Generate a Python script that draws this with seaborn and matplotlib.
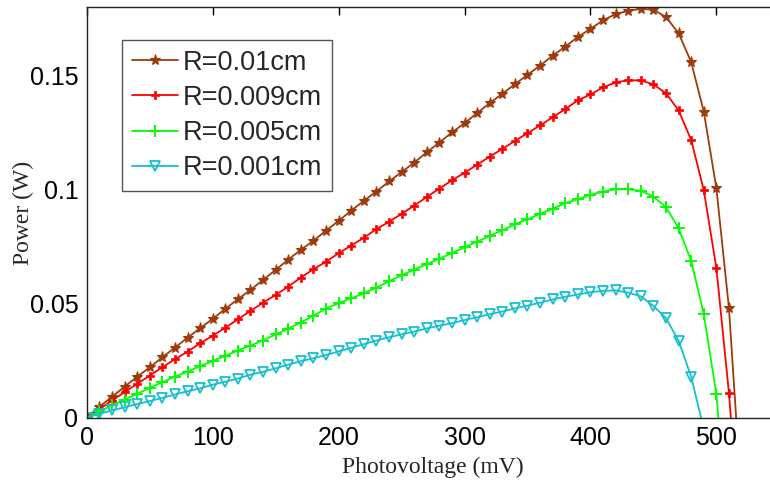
import numpy as np
import pandas as pd
import matplotlib
matplotlib.use("Agg")
import matplotlib.pyplot as plt
import seaborn as sns

# ---- data ----
labels = ["R=0.01cm", "R=0.009cm", "R=0.005cm", "R=0.001cm"]

v_brown = [0, 10, 20, 30, 40, 50, 60, 70, 80, 90, 100, 110, 120, 130, 140, 150, 160, 170, 180, 190,
           200, 210, 220, 230, 240, 250, 260, 270, 280, 290, 300, 310, 320, 330, 340, 350, 360, 370,
           380, 390, 400, 410, 420, 430, 440, 450, 460, 470, 480, 490, 500, 510, 520]
p_brown = [0, 0.0047, 0.0091, 0.0135, 0.0179, 0.0220, 0.0264, 0.0307, 0.0350, 0.0392, 0.0433, 0.0477,
           0.0519, 0.0560, 0.0604, 0.0648, 0.0693, 0.0736, 0.0776, 0.0820, 0.0863, 0.0908, 0.0951,
           0.0992, 0.1036, 0.1077, 0.1119, 0.1164, 0.1207, 0.1251, 0.1292, 0.1336, 0.1380, 0.1421,
           0.1463, 0.1504, 0.1545, 0.1588, 0.1628, 0.1670, 0.1706, 0.1743, 0.1771, 0.1785, 0.1794,
           0.1790, 0.1758, 0.1687, 0.1560, 0.1343, 0.1007, 0.0480, -0.036]

v_red = [0, 10, 20, 30, 40, 50, 60, 70, 80, 90, 100, 110, 120, 130, 140, 150, 160, 170, 180, 190,
         200, 210, 220, 230, 240, 250, 260, 270, 280, 290, 300, 310, 320, 330, 340, 350, 360, 370,
         380, 390, 400, 410, 420, 430, 440, 450, 460, 470, 480, 490, 500, 510, 520]
p_red = [0, 0.0037, 0.0074, 0.0111, 0.0148, 0.0184, 0.0220, 0.0256, 0.0289, 0.0326, 0.0359, 0.0394,
         0.0431, 0.0468, 0.0504, 0.0538, 0.0575, 0.0614, 0.0651, 0.0684, 0.0721, 0.0755, 0.0789,
         0.0827, 0.0859, 0.0894, 0.0930, 0.0968, 0.1005, 0.1041, 0.1074, 0.1110, 0.1145, 0.1179,
         0.1214, 0.1248, 0.1282, 0.1318, 0.1354, 0.1392, 0.1418, 0.1449, 0.1471, 0.1480, 0.1480,
         0.1462, 0.1423, 0.1348, 0.1218, 0.0998, 0.0657, 0.0107, -0.060]

v_green = [0, 10, 20, 30, 40, 50, 60, 70, 80, 90, 100, 110, 120, 130, 140, 150, 160, 170, 180, 190,
           200, 210, 220, 230, 240, 250, 260, 270, 280, 290, 300, 310, 320, 330, 340, 350, 360, 370,
           380, 390, 400, 410, 420, 430, 440, 450, 460, 470, 480, 490, 500, 510]
p_green = [0, 0.0027, 0.0053, 0.0079, 0.0104, 0.0130, 0.0155, 0.0179, 0.0201, 0.0226, 0.0248, 0.0271,
           0.0294, 0.0316, 0.0338, 0.0365, 0.0390, 0.0417, 0.0447, 0.0478, 0.0502, 0.0523, 0.0545,
           0.0570, 0.0598, 0.0624, 0.0649, 0.0673, 0.0697, 0.0722, 0.0747, 0.0772, 0.0797, 0.0822,
           0.0848, 0.0870, 0.0894, 0.0916, 0.0941, 0.0958, 0.0977, 0.0992, 0.1002, 0.1002, 0.0995,
           0.0970, 0.0923, 0.0831, 0.0687, 0.0455, 0.0102, -0.054]

v_cyan = [0, 10, 20, 30, 40, 50, 60, 70, 80, 90, 100, 110, 120, 130, 140, 150, 160, 170, 180, 190,
          200, 210, 220, 230, 240, 250, 260, 270, 280, 290, 300, 310, 320, 330, 340, 350, 360, 370,
          380, 390, 400, 410, 420, 430, 440, 450, 460, 470, 480, 490]
p_cyan = [0, 0.0016, 0.0031, 0.0045, 0.0059, 0.0072, 0.0086, 0.0101, 0.0115, 0.0128, 0.0144, 0.0157,
          0.0171, 0.0188, 0.0201, 0.0216, 0.0232, 0.0247, 0.0260, 0.0274, 0.0290, 0.0306, 0.0322,
          0.0338, 0.0352, 0.0365, 0.0377, 0.0391, 0.0403, 0.0414, 0.0428, 0.0440, 0.0453, 0.0465,
          0.0479, 0.0491, 0.0504, 0.0518, 0.0530, 0.0540, 0.0550, 0.0556, 0.0558, 0.0548, 0.0532,
          0.0490, 0.0436, 0.0337, 0.0179, -0.0050]

x_ticks = [0, 100, 200, 300, 400, 500]
y_ticks = [0, 0.05, 0.1, 0.15]
y_ticklabels = ["0", "0.05", "0.1", "0.15"]

# ---- styling ----
sns.set_theme(style="white")
plt.rcParams["font.family"] = ["Liberation Sans", "DejaVu Sans"]

colors = ["#9E3B0C", "#FF0000", "#00FF00", "#17BECF"]
styles = [
    dict(marker="*", markersize=8, markeredgewidth=0.8),
    dict(marker="P", markersize=5.2, markeredgewidth=0.5),
    dict(marker="+", markersize=9, markeredgewidth=1.4),
    dict(marker="v", markersize=6.5, markeredgewidth=1.3, markerfacecolor="none"),
]

series = [(v_brown, p_brown), (v_red, p_red), (v_green, p_green), (v_cyan, p_cyan)]
frames = []
for lab, (v, p) in zip(labels, series):
    frames.append(pd.DataFrame({"V": v, "P": p, "R": lab}))
df = pd.concat(frames, ignore_index=True)

fig = plt.figure(figsize=(7.7, 4.82), dpi=100)
ax = fig.add_axes([0.1127, 0.1338, 0.8994, 0.8508])

for lab, col, st in zip(labels, colors, styles):
    sub = df[df["R"] == lab]
    sns.lineplot(data=sub, x="V", y="P", ax=ax, color=col, linewidth=1.3,
                 sort=False, estimator=None, label=lab,
                 markeredgecolor=col, **st)

ax.set_xlim(0, 550)
ax.set_ylim(0, 0.18)
ax.set_xticks(x_ticks)
ax.set_xticklabels([str(t) for t in x_ticks])
ax.set_yticks(y_ticks)
ax.set_yticklabels(y_ticklabels)
ax.tick_params(axis="both", direction="in", length=6, width=1, labelsize=18,
               top=True, right=True, colors="black", pad=6)
for s in ax.spines.values():
    s.set_color("#222222")
    s.set_linewidth(1.0)

ax.set_xlabel("Photovoltage (mV)", fontsize=17, family=["Liberation Serif"], labelpad=5)
ax.set_ylabel("Power (W)", fontsize=17, family=["Liberation Serif"], labelpad=-3)

leg = ax.legend(loc="upper left", bbox_to_anchor=(0.051, 0.92), fontsize=19.5,
                frameon=True, fancybox=False, edgecolor="#555555", framealpha=1,
                handlelength=1.7, handletextpad=0.2, labelspacing=0.34,
                borderpad=0.35, borderaxespad=0.0)
leg.get_frame().set_linewidth(1.0)

fig.savefig("out.png", dpi=100)
